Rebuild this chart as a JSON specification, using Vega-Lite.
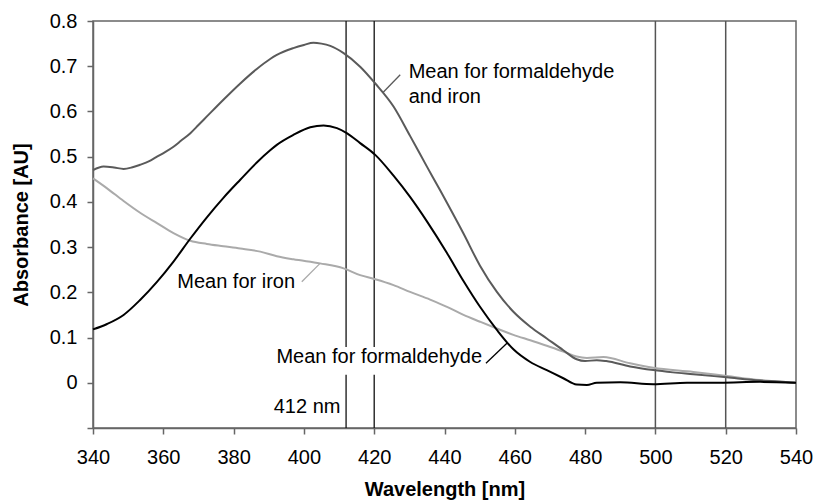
{
  "$schema": "https://vega.github.io/schema/vega-lite/v6.json",
  "width": 703,
  "height": 407,
  "autosize": {"type": "none"},
  "padding": {"left": 93, "top": 21, "right": 19, "bottom": 73},
  "background": "white",
  "config": {
    "font": "Liberation Sans",
    "view": {"stroke": "#666", "strokeWidth": 1.5},
    "axis": {
      "grid": false,
      "domainColor": "#666",
      "domainWidth": 1.5,
      "tickColor": "#666",
      "tickWidth": 1.5,
      "tickSize": 6,
      "labelFlush": false,
      "labelFont": "Liberation Sans",
      "labelFontSize": 20,
      "labelColor": "#000",
      "titleFont": "Liberation Sans",
      "titleFontSize": 20,
      "titleFontWeight": "bold",
      "titleColor": "#000"
    }
  },
  "resolve": {"scale": {"color": "independent"}},
  "datasets": {
    "curves": [
      {"nm": 340, "s": "iron", "v": 0.452},
      {"nm": 344, "s": "iron", "v": 0.43},
      {"nm": 348.7, "s": "iron", "v": 0.402},
      {"nm": 353.4, "s": "iron", "v": 0.376},
      {"nm": 358.2, "s": "iron", "v": 0.353},
      {"nm": 362.9, "s": "iron", "v": 0.331},
      {"nm": 367.7, "s": "iron", "v": 0.314},
      {"nm": 372.4, "s": "iron", "v": 0.307},
      {"nm": 377.1, "s": "iron", "v": 0.302},
      {"nm": 381.9, "s": "iron", "v": 0.297},
      {"nm": 387.6, "s": "iron", "v": 0.29},
      {"nm": 392.3, "s": "iron", "v": 0.28},
      {"nm": 397, "s": "iron", "v": 0.273},
      {"nm": 404.6, "s": "iron", "v": 0.264},
      {"nm": 411.3, "s": "iron", "v": 0.253},
      {"nm": 416, "s": "iron", "v": 0.238},
      {"nm": 420.3, "s": "iron", "v": 0.229},
      {"nm": 425.5, "s": "iron", "v": 0.216},
      {"nm": 430.2, "s": "iron", "v": 0.201},
      {"nm": 435.9, "s": "iron", "v": 0.184},
      {"nm": 440.7, "s": "iron", "v": 0.168},
      {"nm": 445.4, "s": "iron", "v": 0.15},
      {"nm": 450.1, "s": "iron", "v": 0.135},
      {"nm": 454.9, "s": "iron", "v": 0.12},
      {"nm": 459.6, "s": "iron", "v": 0.106},
      {"nm": 464.4, "s": "iron", "v": 0.094},
      {"nm": 469.1, "s": "iron", "v": 0.082},
      {"nm": 473.8, "s": "iron", "v": 0.069},
      {"nm": 477.6, "s": "iron", "v": 0.058},
      {"nm": 480.5, "s": "iron", "v": 0.055},
      {"nm": 485.2, "s": "iron", "v": 0.057},
      {"nm": 492.8, "s": "iron", "v": 0.043},
      {"nm": 499.4, "s": "iron", "v": 0.033},
      {"nm": 510.8, "s": "iron", "v": 0.024},
      {"nm": 520.3, "s": "iron", "v": 0.015},
      {"nm": 529.8, "s": "iron", "v": 0.006},
      {"nm": 540, "s": "iron", "v": 0.0},

      {"nm": 340, "s": "fi", "v": 0.47},
      {"nm": 343, "s": "fi", "v": 0.478},
      {"nm": 346, "s": "fi", "v": 0.476},
      {"nm": 348.7, "s": "fi", "v": 0.473},
      {"nm": 351, "s": "fi", "v": 0.476},
      {"nm": 353.4, "s": "fi", "v": 0.482},
      {"nm": 356, "s": "fi", "v": 0.49},
      {"nm": 358.2, "s": "fi", "v": 0.5},
      {"nm": 360.5, "s": "fi", "v": 0.51},
      {"nm": 362.9, "s": "fi", "v": 0.522},
      {"nm": 365, "s": "fi", "v": 0.535},
      {"nm": 367.7, "s": "fi", "v": 0.552},
      {"nm": 370, "s": "fi", "v": 0.57},
      {"nm": 372.4, "s": "fi", "v": 0.589},
      {"nm": 377.1, "s": "fi", "v": 0.626},
      {"nm": 381.9, "s": "fi", "v": 0.662},
      {"nm": 386.6, "s": "fi", "v": 0.694},
      {"nm": 390.4, "s": "fi", "v": 0.716},
      {"nm": 392.3, "s": "fi", "v": 0.725},
      {"nm": 397, "s": "fi", "v": 0.74},
      {"nm": 400, "s": "fi", "v": 0.747},
      {"nm": 402.7, "s": "fi", "v": 0.752},
      {"nm": 405, "s": "fi", "v": 0.75},
      {"nm": 407.5, "s": "fi", "v": 0.745},
      {"nm": 411.3, "s": "fi", "v": 0.729},
      {"nm": 416, "s": "fi", "v": 0.699},
      {"nm": 420.3, "s": "fi", "v": 0.662},
      {"nm": 425.5, "s": "fi", "v": 0.611},
      {"nm": 430.2, "s": "fi", "v": 0.546},
      {"nm": 435, "s": "fi", "v": 0.478},
      {"nm": 438.8, "s": "fi", "v": 0.425},
      {"nm": 440.7, "s": "fi", "v": 0.398},
      {"nm": 445.4, "s": "fi", "v": 0.33},
      {"nm": 450.1, "s": "fi", "v": 0.259},
      {"nm": 454.9, "s": "fi", "v": 0.201},
      {"nm": 459.6, "s": "fi", "v": 0.157},
      {"nm": 464.4, "s": "fi", "v": 0.124},
      {"nm": 469.1, "s": "fi", "v": 0.098},
      {"nm": 473.8, "s": "fi", "v": 0.072},
      {"nm": 477.6, "s": "fi", "v": 0.052},
      {"nm": 480, "s": "fi", "v": 0.048},
      {"nm": 483.3, "s": "fi", "v": 0.05},
      {"nm": 486, "s": "fi", "v": 0.048},
      {"nm": 492.8, "s": "fi", "v": 0.036},
      {"nm": 499.4, "s": "fi", "v": 0.028},
      {"nm": 505, "s": "fi", "v": 0.023},
      {"nm": 510.8, "s": "fi", "v": 0.019},
      {"nm": 520.3, "s": "fi", "v": 0.012},
      {"nm": 529.8, "s": "fi", "v": 0.005},
      {"nm": 535, "s": "fi", "v": 0.003},
      {"nm": 540, "s": "fi", "v": 0.0},

      {"nm": 340, "s": "f", "v": 0.118},
      {"nm": 344, "s": "f", "v": 0.13},
      {"nm": 348.7, "s": "f", "v": 0.15},
      {"nm": 353.4, "s": "f", "v": 0.183},
      {"nm": 358.2, "s": "f", "v": 0.223},
      {"nm": 362.9, "s": "f", "v": 0.268},
      {"nm": 367.7, "s": "f", "v": 0.319},
      {"nm": 372.4, "s": "f", "v": 0.366},
      {"nm": 377.1, "s": "f", "v": 0.409},
      {"nm": 381.9, "s": "f", "v": 0.449},
      {"nm": 386.6, "s": "f", "v": 0.487},
      {"nm": 390.4, "s": "f", "v": 0.514},
      {"nm": 392.3, "s": "f", "v": 0.526},
      {"nm": 397, "s": "f", "v": 0.548},
      {"nm": 401.8, "s": "f", "v": 0.565},
      {"nm": 405.6, "s": "f", "v": 0.569},
      {"nm": 409.4, "s": "f", "v": 0.563},
      {"nm": 412.2, "s": "f", "v": 0.552},
      {"nm": 416, "s": "f", "v": 0.53},
      {"nm": 420.3, "s": "f", "v": 0.504},
      {"nm": 425.5, "s": "f", "v": 0.458},
      {"nm": 430.2, "s": "f", "v": 0.411},
      {"nm": 435, "s": "f", "v": 0.357},
      {"nm": 440.7, "s": "f", "v": 0.287},
      {"nm": 445.4, "s": "f", "v": 0.225},
      {"nm": 450.1, "s": "f", "v": 0.168},
      {"nm": 454.9, "s": "f", "v": 0.117},
      {"nm": 459.6, "s": "f", "v": 0.074},
      {"nm": 464.4, "s": "f", "v": 0.046},
      {"nm": 469.1, "s": "f", "v": 0.028},
      {"nm": 473.8, "s": "f", "v": 0.01},
      {"nm": 477.6, "s": "f", "v": -0.004},
      {"nm": 480.5, "s": "f", "v": -0.005},
      {"nm": 483.3, "s": "f", "v": 0.0},
      {"nm": 490, "s": "f", "v": 0.001},
      {"nm": 499.4, "s": "f", "v": -0.003},
      {"nm": 509, "s": "f", "v": 0.0},
      {"nm": 518.4, "s": "f", "v": 0.0},
      {"nm": 529.8, "s": "f", "v": 0.002},
      {"nm": 540, "s": "f", "v": 0.0}
    ],
    "marks": [
      {"nm": 412, "top": 0.8, "bottom": 0.079},
      {"nm": 412, "top": 0.018, "bottom": -0.1},
      {"nm": 420, "top": 0.8, "bottom": 0.079},
      {"nm": 420, "top": 0.018, "bottom": -0.1}
    ],
    "marks2": [
      {"nm": 500, "top": 0.8, "bottom": -0.1},
      {"nm": 520, "top": 0.8, "bottom": -0.1}
    ],
    "leaders": [
      {"x1": 427.4, "y1": 0.681, "x2": 422.5, "y2": 0.642, "s": "fi"},
      {"x1": 399.4, "y1": 0.2235, "x2": 404.6, "y2": 0.264, "s": "iron"},
      {"x1": 451.8, "y1": 0.043, "x2": 457.9, "y2": 0.0885, "s": "f"}
    ],
    "labels": [
      {"nm": 429.8, "v": 0.688, "t": "Mean for formaldehyde", "a": "left"},
      {"nm": 429.8, "v": 0.633, "t": "and iron", "a": "left"},
      {"nm": 397.5, "v": 0.2226, "t": "Mean for iron", "a": "right"},
      {"nm": 450.7, "v": 0.056, "t": "Mean for formaldehyde", "a": "right"},
      {"nm": 410.4, "v": -0.054, "t": "412 nm", "a": "right"}
    ]
  },
  "encoding": {
    "x": {
      "type": "quantitative",
      "scale": {"domain": [340, 540], "nice": false, "zero": false},
      "axis": {
        "title": "Wavelength [nm]",
        "values": [340, 360, 380, 400, 420, 440, 460, 480, 500, 520, 540],
        "labelFlush": false,
        "labelFontSize": 20,
        "labelPadding": 13,
        "titleFontSize": 20,
        "titlePadding": 12
      }
    },
    "y": {
      "type": "quantitative",
      "scale": {"domain": [-0.1, 0.8], "nice": false, "zero": false},
      "axis": {
        "title": "Absorbance [AU]",
        "values": [-0.1, 0, 0.1, 0.2, 0.3, 0.4, 0.5, 0.6, 0.7, 0.8],
        "labelExpr": "datum.value < -0.05 ? '' : format(datum.value, '.1~f')",
        "labelFlush": false,
        "labelFontSize": 20,
        "labelPadding": 10,
        "titleFontSize": 20,
        "titlePadding": 18
      }
    }
  },
  "layer": [
    {
      "data": {"name": "marks"},
      "mark": {"type": "rule", "strokeWidth": 1.3, "color": "#111111"},
      "encoding": {
        "x": {"field": "nm"},
        "y": {"field": "top"},
        "y2": {"field": "bottom"}
      }
    },
    {
      "data": {"name": "marks2"},
      "mark": {"type": "rule", "strokeWidth": 1.5, "color": "#555555"},
      "encoding": {
        "x": {"field": "nm"},
        "y": {"field": "top"},
        "y2": {"field": "bottom"}
      }
    },
    {
      "data": {"name": "curves"},
      "mark": {"type": "line", "strokeWidth": 2, "interpolate": "monotone"},
      "encoding": {
        "x": {"field": "nm"},
        "y": {"field": "v"},
        "detail": {"field": "s"},
        "color": {"field": "s", "type": "nominal", "scale": {"domain": ["iron", "fi", "f"], "range": ["#aaaaaa", "#5a5a5a", "#000000"]}, "legend": null},
        "order": {"field": "nm", "type": "quantitative"}
      }
    },
    {
      "data": {"name": "leaders"},
      "mark": {"type": "rule", "strokeWidth": 1.3},
      "encoding": {
        "x": {"field": "x1"},
        "y": {"field": "y1"},
        "x2": {"field": "x2"},
        "y2": {"field": "y2"},
        "color": {"field": "s", "type": "nominal", "scale": {"domain": ["iron", "fi", "f"], "range": ["#aaaaaa", "#5a5a5a", "#000000"]}, "legend": null}
      }
    },
    {
      "data": {"name": "labels"},
      "transform": [{"filter": "datum.a == 'left'"}],
      "mark": {"type": "text", "align": "left", "baseline": "middle", "fontSize": 20, "font": "Liberation Sans", "color": "#000"},
      "encoding": {
        "x": {"field": "nm"},
        "y": {"field": "v"},
        "text": {"field": "t"}
      }
    },
    {
      "data": {"name": "labels"},
      "transform": [{"filter": "datum.a == 'right'"}],
      "mark": {"type": "text", "align": "right", "baseline": "middle", "fontSize": 20, "font": "Liberation Sans", "color": "#000"},
      "encoding": {
        "x": {"field": "nm"},
        "y": {"field": "v"},
        "text": {"field": "t"}
      }
    }
  ]
}
